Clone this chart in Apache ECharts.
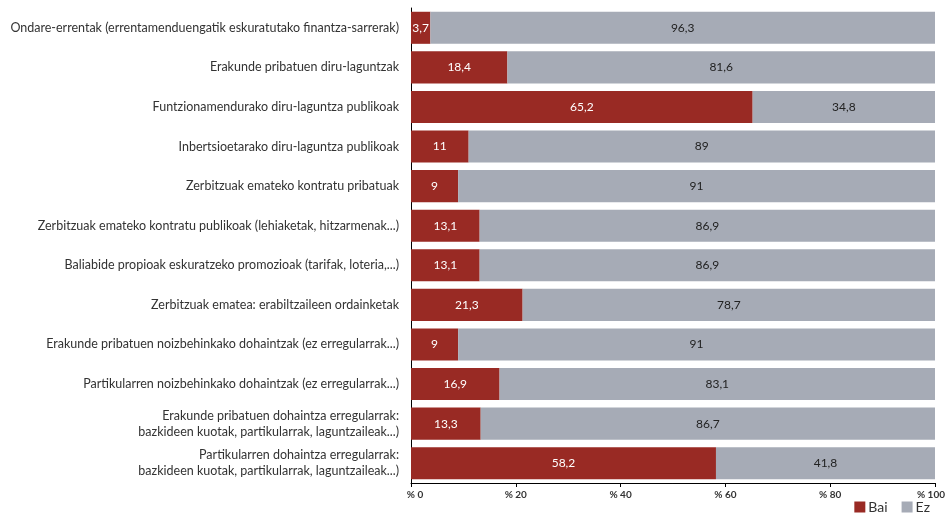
<!DOCTYPE html>
<html>
<head>
<meta charset="utf-8">
<script src="https://cdn.jsdelivr.net/npm/echarts@6/dist/echarts.min.js"></script>
<style>html,body{margin:0;padding:0;background:#fff}#c{width:946px;height:519px}</style>
</head>
<body>
<div id="c"></div>
<script>
const categories = [
  "Ondare-errentak (errentamenduengatik eskuratutako finantza-sarrerak)",
  "Erakunde pribatuen diru-laguntzak",
  "Funtzionamendurako diru-laguntza publikoak",
  "Inbertsioetarako diru-laguntza publikoak",
  "Zerbitzuak emateko kontratu pribatuak",
  "Zerbitzuak emateko kontratu publikoak (lehiaketak, hitzarmenak...)",
  "Baliabide propioak eskuratzeko promozioak (tarifak, loteria,...)",
  "Zerbitzuak ematea: erabiltzaileen ordainketak",
  "Erakunde pribatuen noizbehinkako dohaintzak (ez erregularrak...)",
  "Partikularren noizbehinkako dohaintzak (ez erregularrak...)",
  "Erakunde pribatuen dohaintza erregularrak:\nbazkideen kuotak, partikularrak, laguntzaileak...)",
  "Partikularren dohaintza erregularrak:\nbazkideen kuotak, partikularrak, laguntzaileak...)"
];
const bai = [3.7, 18.4, 65.2, 11, 9, 13.1, 13.1, 21.3, 9, 16.9, 13.3, 58.2];
const ez  = [96.3, 81.6, 34.8, 89, 91, 86.9, 86.9, 78.7, 91, 83.1, 86.7, 41.8];
const xTicks = [0, 20, 40, 60, 80, 100];

const fmt = v => String(v).replace('.', ',');
const xMin = xTicks[0], xMax = xTicks[xTicks.length - 1];
const chart = echarts.init(document.getElementById('c'));
const tickStyle = { fontSize: 10, fontWeight: 'bold', color: '#333' };
chart.setOption({
  animation: false,
  textStyle: { fontFamily: 'Lato, "Open Sans", sans-serif' },
  grid: { left: 411, right: 11, top: 8, bottom: 36, containLabel: false, outerBoundsMode: 'none' },
  legend: {
    data: ['Bai', 'Ez'], right: 11, bottom: 0, itemWidth: 11, itemHeight: 11, itemGap: 14,
    icon: 'rect',
    textStyle: { fontSize: 14, color: '#333', fontFamily: 'Lato, sans-serif', padding: [0,0,0,-2] }
  },
  xAxis: {
    type: 'value', min: xMin, max: xMax, interval: 20,
    splitLine: { show: false },
    axisLine: { show: true, lineStyle: { color: '#000', width: 1 } },
    axisTick: { show: true, length: 4, lineStyle: { color: '#000' } },
    axisLabel: {
      formatter: v => v === xMin ? '{a|% ' + v + '}' : (v === xMax ? '{b|% ' + v + '}' : '% ' + v),
      rich: {
        a: Object.assign({ padding: [0, 0, 0, 8] }, tickStyle),
        b: Object.assign({ padding: [0, 8, 0, 0] }, tickStyle)
      },
      fontSize: 10, fontWeight: 'bold', color: '#333', margin: 7
    }
  },
  yAxis: {
    type: 'category', data: categories, inverse: true,
    axisLine: { show: true, lineStyle: { color: '#000', width: 1 } },
    axisTick: { show: false },
    axisLabel: { fontSize: 12.5, color: '#333', margin: 12, lineHeight: 16 }
  },
  series: [
    { name: 'Bai', type: 'bar', stack: 't', data: bai, barCategoryGap: '19%',
      itemStyle: { color: '#992a24' },
      label: { show: true, position: 'inside', color: '#fff', fontSize: 12, formatter: p => fmt(p.value) } },
    { name: 'Ez', type: 'bar', stack: 't', data: ez,
      itemStyle: { color: '#a6abb6' },
      label: { show: true, position: 'inside', color: '#222', fontSize: 12, formatter: p => fmt(p.value) } }
  ]
});
</script>
</body>
</html>
